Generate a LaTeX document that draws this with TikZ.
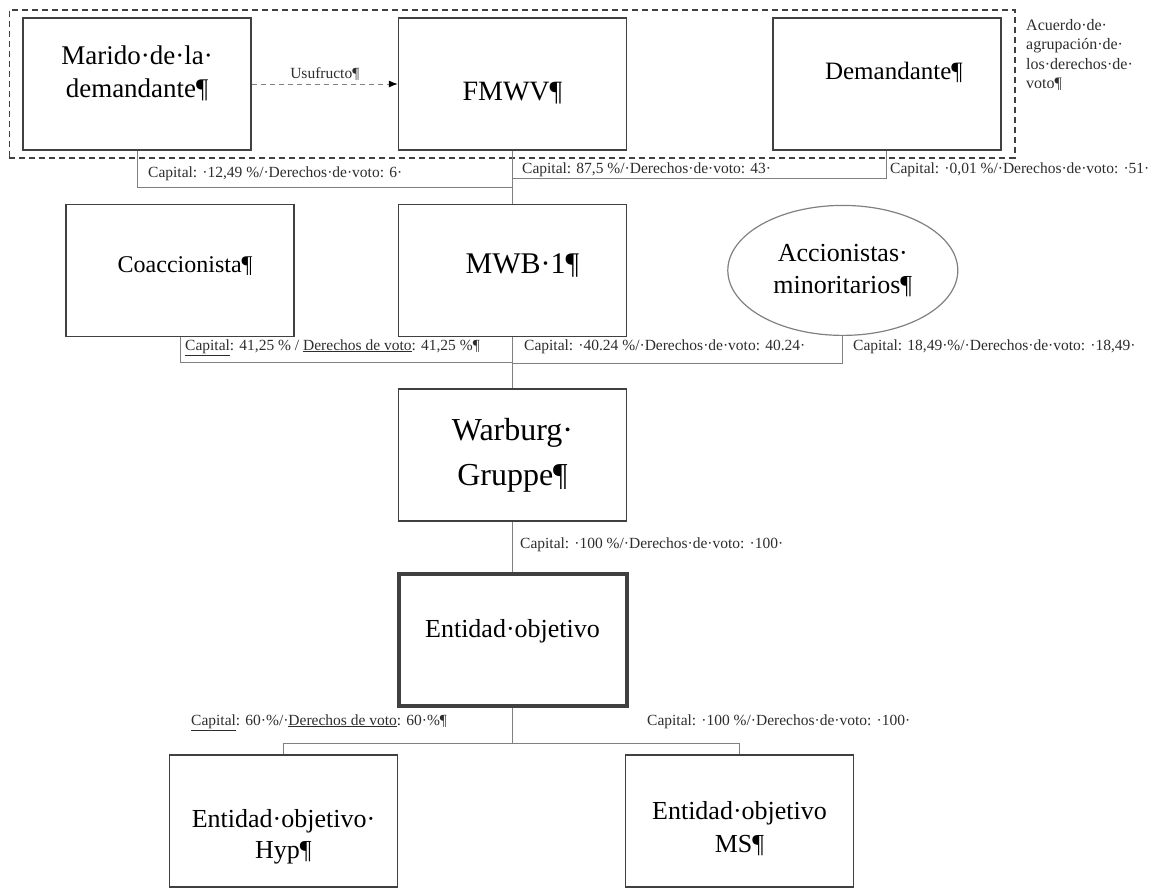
\documentclass[tikz,border=0pt]{standalone}
\usepackage{fontspec}
\setmainfont{Liberation Serif}
\usepackage{tikz}
\usetikzlibrary{shapes.geometric, arrows.meta, positioning, fit}
\definecolor{edgegray}{RGB}{64,64,64}
\definecolor{linkgray}{RGB}{128,128,128}
\definecolor{notegray}{RGB}{45,45,45}
\newcommand{\padtop}[1]{\rule{0pt}{#1}}
\newcommand{\padbot}[1]{\rule[-#1]{0pt}{#1}}

\begin{document}
\begin{tikzpicture}[
    x=1pt, y=-1pt,
    box/.style={draw=edgegray, line width=1.4pt, minimum width=228pt, minimum height=132pt, align=center, inner sep=2pt},
    group/.style={draw=edgegray, line width=1.8pt, dash pattern=on 6pt off 4pt},
    link/.style={draw=linkgray, line width=1pt},
    usuf/.style={draw=linkgray, line width=1pt, dash pattern=on 5pt off 4pt, -{Latex[length=9pt, width=7pt, color=black]}},
    note/.style={font=\fontsize{15.5}{19.5}\selectfont, text=notegray, inner sep=0pt, anchor=base west}
]
    \useasboundingbox (0,0) rectangle (1153,889);

    % main column
    \node[box, font=\fontsize{28}{34}\selectfont] (fmwv) at (512.5,84) {\padtop{36pt}FMWV¶};
    \node[box, font=\fontsize{30}{36}\selectfont, below=53pt of fmwv] (mwb) {\hspace*{20pt}MWB·1¶\padbot{13pt}};
    \node[box, font=\fontsize{32}{45}\selectfont, below=51pt of mwb] (warburg) {Warburg·\\Gruppe¶};
    \node[box, line width=4pt, font=\fontsize{26}{32}\selectfont, below=50pt of warburg] (target) {Entidad·objetivo\padbot{22pt}};
    \node[box, font=\fontsize{26}{31}\selectfont] (hyp) at (283.5,821) {\padtop{50pt}Entidad·objetivo·\\Hyp¶};
    \node[box, font=\fontsize{26}{33}\selectfont] (ms) at (739.5,821) {\padtop{34pt}Entidad·objetivo\\MS¶};

    % side nodes
    \node[box, font=\fontsize{27}{33}\selectfont, left=146pt of fmwv] (marido) {Marido·de·la·\\demandante¶\padbot{25pt}};
    \node[box, font=\fontsize{25}{30}\selectfont, right=145pt of fmwv] (dem) {\hspace*{14pt}Demandante¶\padbot{27pt}};
    \node[box, font=\fontsize{24}{30}\selectfont, left=103pt of mwb] (coac) {\hspace*{10pt}Coaccionista¶\padbot{11pt}};
    \node[ellipse, draw=linkgray, line width=1.2pt, minimum width=230pt, minimum height=130pt, align=center, inner sep=0pt,
          font=\fontsize{26}{32}\selectfont, right=100pt of mwb] (minor) {Accionistas·\\minoritarios¶};

    % voting pool
    \node[group, fit=(marido)(dem), inner xsep=13pt, inner ysep=7.5pt] (pool) {};
    \node[note, font=\fontsize{16}{19.5}\selectfont, anchor=north west, align=left] (pooltext) at (1026,19) {Acuerdo·de·\\agrupación·de·\\los·derechos·de·\\voto¶};

    % usufruct
    \draw[usuf] (marido) -- node[note, anchor=south, inner sep=3pt] {Usufructo¶} (fmwv);

    % shareholdings
    \draw[link] (marido.south) -- ++(0,37) -| (fmwv.south);
    \draw[link] (dem.south) -- ++(0,28) -| (fmwv.south);
    \draw[link] (fmwv) -- (mwb);
    \draw[link] (coac.south) -- ++(0,25) -| (mwb.south);
    \draw[link] (minor.south) -- ++(0,27) -| (mwb.south);
    \draw[link] (mwb) -- (warburg);
    \draw[link] (warburg) -- (target);
    \draw[link] (target.south) -- ++(0,36) -| (hyp.north);
    \draw[link] (target.south) -- ++(0,36) -| (ms.north);

    \node[note] (cap1) at (148,177) {Capital: ·12,49 \%/·Derechos·de·voto: 6·};
    \node[note] (cap2) at (522,173) {Capital: 87,5 \%/·Derechos·de·voto: 43·};
    \node[note] (cap3) at (890,173) {Capital: ·0,01 \%/·Derechos·de·voto: ·51·};
    \node[note] (cap4) at (185,350) {\underline{Capital}: 41,25 \% / \underline{Derechos de voto}: 41,25 \%¶};
    \node[note] (cap5) at (524,350) {Capital: ·40.24 \%/·Derechos·de·voto: 40.24·};
    \node[note] (cap6) at (853,350) {Capital: 18,49·\%/·Derechos·de·voto: ·18,49·};
    \node[note] (cap7) at (520,548) {Capital: ·100 \%/·Derechos·de·voto: ·100·};
    \node[note] (cap8) at (191,725) {\underline{Capital}: 60·\%/·\underline{Derechos de voto}: 60·\%¶};
    \node[note] (cap9) at (647,725) {Capital: ·100 \%/·Derechos·de·voto: ·100·};
\end{tikzpicture}
\end{document}
